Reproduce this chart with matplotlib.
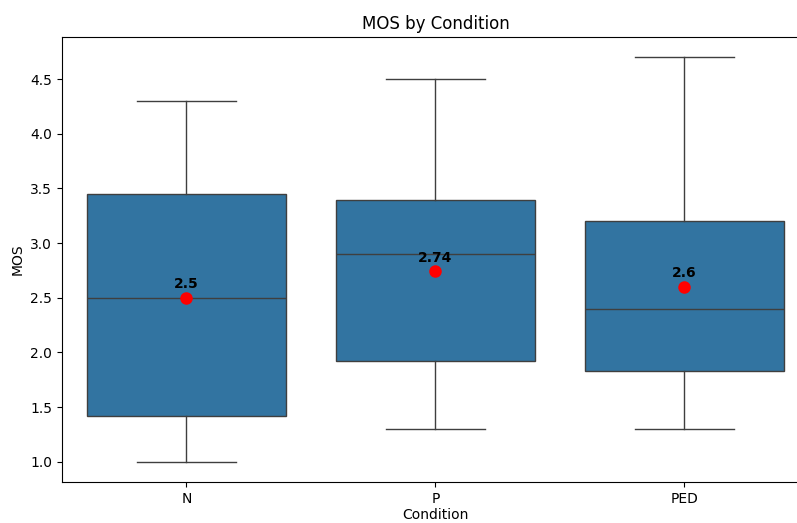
import matplotlib
matplotlib.use("Agg")
import matplotlib.pyplot as plt

conditions = ["N", "P", "PED"]
whislo = [1.0, 1.3, 1.3]
q1 = [1.42, 1.92, 1.83]
med = [2.5, 2.9, 2.4]
q3 = [3.45, 3.39, 3.2]
whishi = [4.3, 4.5, 4.7]
means = [2.5, 2.74, 2.6]

stats = []
for i in range(len(conditions)):
    stats.append({"label": conditions[i], "whislo": whislo[i], "q1": q1[i],
                  "med": med[i], "q3": q3[i], "whishi": whishi[i], "fliers": []})

fig = plt.figure(figsize=(7.97, 5.23), dpi=100)
# axes run past the right edge, like the cropped original
ax = fig.add_axes([0.0778, 0.0784, 0.937, 0.851])

line_col = "#3f3f3f"
pos = list(range(len(conditions)))
ax.bxp(stats, positions=pos, widths=0.8, patch_artist=True, showfliers=False,
       boxprops=dict(facecolor="#3274a1", edgecolor=line_col, linewidth=1.0),
       medianprops=dict(color=line_col, linewidth=1.0),
       whiskerprops=dict(color=line_col, linewidth=1.0),
       capprops=dict(color=line_col, linewidth=1.0), capwidths=0.4)

ax.plot(pos, means, "o", color="red", markersize=8, linestyle="none", zorder=5)
for x, m in zip(pos, means):
    ax.annotate(str(m), (x, m), xytext=(0, 5), textcoords="offset points",
                ha="center", va="bottom", fontweight="bold", fontsize=10)

ax.set_xlim(-0.5, 2.5)
ax.set_ylim(0.815, 4.885)
ax.set_xticks(pos)
ax.set_xticklabels(conditions)
ax.set_title("MOS by Condition", fontsize=12)
ax.set_xlabel("Condition", labelpad=2)
ax.set_ylabel("MOS")

fig.savefig("out.png", dpi=100)
